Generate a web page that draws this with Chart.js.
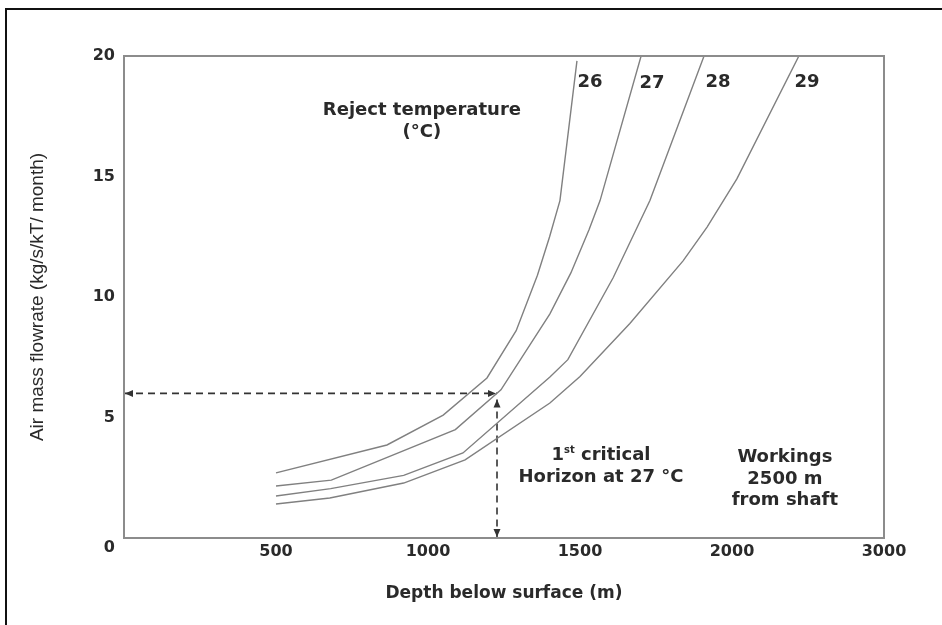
<!DOCTYPE html>
<html>
<head>
<meta charset="utf-8">
<script src="https://cdn.jsdelivr.net/npm/chart.js@4.4.1/dist/chart.umd.min.js"></script>
<style>
  html, body { margin: 0; padding: 0; background: #fff; }
  canvas { display: block; }
</style>
</head>
<body>
<canvas id="grafico" width="942" height="625"></canvas>
<script>
// reject temperature curves (depth in m, air mass flowrate in kg/s/kT/month)
const temperaturas = ["26", "27", "28", "29"];

const depth26 = [500, 865, 1050, 1194, 1290, 1360, 1400, 1434, 1490];
const flow26 = [2.7, 3.86, 5.1, 6.64, 8.6, 10.9, 12.5, 14.0, 19.8];

const depth27 = [500, 682, 1090, 1240, 1401, 1470, 1530, 1566, 1701];
const flow27 = [2.16, 2.4, 4.5, 6.15, 9.3, 11.0, 12.8, 14.0, 20];

const depth28 = [500, 680, 920, 1115, 1401, 1460, 1609, 1730, 1908];
const flow28 = [1.74, 2.05, 2.6, 3.53, 6.68, 7.4, 10.8, 14.0, 20];

const depth29 = [500, 677, 920, 1122, 1401, 1500, 1664, 1839, 1918, 2016, 2220];
const flow29 = [1.41, 1.66, 2.28, 3.24, 5.6, 6.7, 8.9, 11.5, 12.9, 14.9, 20];

// 1st critical horizon
const horizonDepth = 1227;
const horizonFlow = 6;

const xTickValues = [0, 500, 1000, 1500, 2000, 2500];
const xTickLabels = ["", "500", "1000", "1500", "2000", "3000"];
const yTickValues = [0, 5, 10, 15, 20];

const series = [
  [depth26, flow26],
  [depth27, flow27],
  [depth28, flow28],
  [depth29, flow29]
];

// where the curve names and notes go (data units)
const curveLabelPos = [[1533, 18.9], [1737, 18.85], [1954, 18.9], [2247, 18.9]];
const notas = [
  { x: 980, y: 17.76, text: "Reject temperature" },
  { x: 980, y: 16.85, text: "(\u00B0C)" },
  { x: 1569, y: 2.53, text: "Horizon at 27 \u00B0C" },
  { x: 2174, y: 3.36, text: "Workings" },
  { x: 2174, y: 2.45, text: "2500 m" },
  { x: 2174, y: 1.58, text: "from shaft" }
];

const textColor = "#2a2a2a";
const boldFont = "bold 18px 'DejaVu Sans'";

const datasets = series.map(([xs, ys], i) => ({
  label: temperaturas[i],
  data: xs.map((x, k) => ({ x, y: ys[k] })),
  borderColor: "#808080",
  borderWidth: 1.4,
  pointRadius: 0,
  tension: 0,
  fill: false
}));

datasets.push({
  label: "h",
  data: [{ x: 0, y: horizonFlow }, { x: horizonDepth, y: horizonFlow }],
  borderColor: "#333",
  borderWidth: 1.6,
  borderDash: [7, 5],
  pointRadius: 0
});
datasets.push({
  label: "v",
  data: [{ x: horizonDepth, y: horizonFlow - 0.25 }, { x: horizonDepth, y: 0 }],
  borderColor: "#333",
  borderWidth: 1.6,
  borderDash: [7, 5],
  pointRadius: 0
});

function seta(ctx, x, y, dx, dy) {
  const len = 8, half = 3.5;
  const px = -dy, py = dx;
  ctx.beginPath();
  ctx.moveTo(x, y);
  ctx.lineTo(x - dx * len + px * half, y - dy * len + py * half);
  ctx.lineTo(x - dx * len - px * half, y - dy * len - py * half);
  ctx.closePath();
  ctx.fill();
}

const desenho = {
  id: "desenho",
  afterDraw(chart) {
    const { ctx, chartArea: a, scales: { x, y } } = chart;
    ctx.save();

    // outer frame
    ctx.strokeStyle = "#111";
    ctx.lineWidth = 2;
    ctx.beginPath();
    ctx.moveTo(6, chart.height);
    ctx.lineTo(6, 9);
    ctx.lineTo(chart.width, 9);
    ctx.stroke();

    // plot box
    ctx.strokeStyle = "#8c8c8c";
    ctx.lineWidth = 2;
    ctx.strokeRect(a.left, a.top, a.right - a.left, a.bottom - a.top);

    // arrow heads
    ctx.fillStyle = "#333";
    const hx = x.getPixelForValue(horizonDepth);
    const hy = y.getPixelForValue(horizonFlow);
    seta(ctx, a.left + 1, hy, -1, 0);
    seta(ctx, hx - 1, hy, 1, 0);
    seta(ctx, hx, y.getPixelForValue(horizonFlow - 0.25), 0, -1);
    seta(ctx, hx, a.bottom - 1, 0, 1);

    ctx.fillStyle = textColor;
    ctx.font = boldFont;
    ctx.textAlign = "center";
    ctx.textBaseline = "middle";
    curveLabelPos.forEach(([cx, cy], i) => {
      ctx.fillText(temperaturas[i], x.getPixelForValue(cx), y.getPixelForValue(cy));
    });
    notas.forEach(n => {
      ctx.fillText(n.text, x.getPixelForValue(n.x), y.getPixelForValue(n.y));
    });

    // "1st critical" with superscript
    const cx = x.getPixelForValue(1569), cy = y.getPixelForValue(3.44);
    const w1 = ctx.measureText("1").width;
    const w3 = ctx.measureText(" critical").width;
    ctx.font = "bold 10px 'DejaVu Sans'";
    const w2 = ctx.measureText("st").width;
    let sx = cx - (w1 + w2 + w3) / 2;
    ctx.textAlign = "left";
    ctx.fillText("st", sx + w1, cy - 5);
    ctx.font = boldFont;
    ctx.fillText("1", sx, cy);
    ctx.fillText(" critical", sx + w1 + w2, cy);

    ctx.restore();
  }
};

new Chart(document.getElementById("grafico"), {
  type: "line",
  data: { datasets },
  options: {
    responsive: false,
    animation: false,
    layout: { padding: { left: 0, top: 56, right: 58, bottom: 0 } },
    plugins: { legend: { display: false }, tooltip: { enabled: false } },
    scales: {
      x: {
        type: "linear",
        min: 0,
        max: 2500,
        afterBuildTicks: s => { s.ticks = xTickValues.map(v => ({ value: v })); },
        afterFit: s => { s.height = 87; },
        grid: { display: false, drawTicks: false },
        border: { display: false },
        ticks: {
          padding: 4,
          color: textColor,
          font: { family: "DejaVu Sans", size: 16, weight: "bold" },
          callback: (v, i) => xTickLabels[i]
        },
        title: {
          display: true,
          text: "Depth below surface (m)",
          color: textColor,
          font: { family: "DejaVu Sans", size: 17, weight: "bold" },
          padding: { top: 0, bottom: 21 }
        }
      },
      y: {
        type: "linear",
        min: 0,
        max: 20,
        afterBuildTicks: s => { s.ticks = yTickValues.map(v => ({ value: v })); },
        afterFit: s => { s.width = 124; },
        grid: { display: false, drawTicks: false },
        border: { display: false },
        ticks: {
          padding: 9,
          color: textColor,
          font: { family: "DejaVu Sans", size: 16, weight: "bold" },
          callback: v => (v === 0 ? ["", "0"] : String(v))
        },
        title: {
          display: true,
          text: "Air mass flowrate (kg/s/kT/ month)",
          color: textColor,
          font: { family: "Liberation Sans", size: 19 },
          padding: { top: 26, bottom: 0 }
        }
      }
    }
  },
  plugins: [desenho]
});
</script>
</body>
</html>
